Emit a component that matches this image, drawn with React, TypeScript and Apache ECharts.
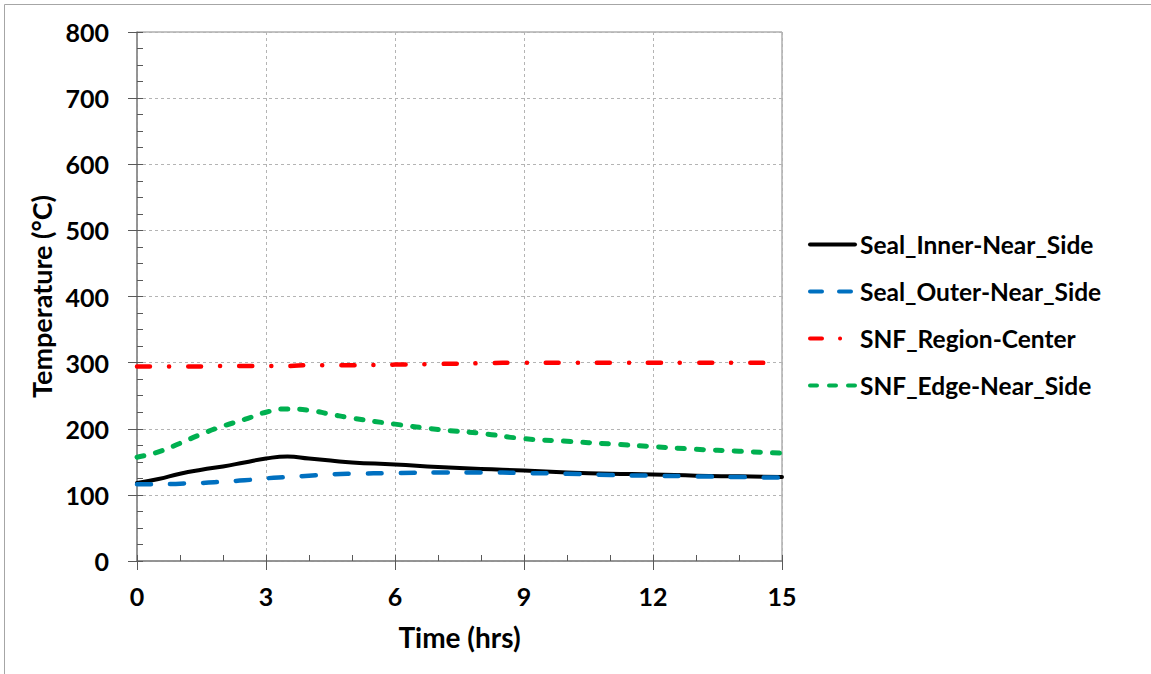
import React, { useEffect, useRef } from "react";
import * as echarts from "echarts";

const timeHrs = [0, 0.5, 1, 1.5, 2, 2.5, 3, 3.5, 4, 4.5, 5, 6, 7, 8, 9, 10, 11, 12, 13, 14, 15];
const sealInner = [118, 124, 132, 138, 143, 149, 155, 158, 155, 152, 149, 146, 142, 139, 137, 134, 132, 131, 129, 128, 127];
const sealOuter = [116, 116, 117, 118, 120, 122, 125, 127, 129, 131, 132, 133, 134, 134, 133, 132, 130, 129, 128, 127, 126];
const snfCenter = [294, 294, 294, 294, 295, 295, 295, 295, 296, 296, 296, 297, 298, 299, 300, 300, 300, 300, 300, 300, 299];
const snfEdge = [157, 165, 178, 192, 204, 214, 225, 230, 228, 222, 216, 207, 199, 193, 185, 181, 177, 173, 169, 166, 163];

const seriesNames = ["Seal_Inner-Near_Side", "Seal_Outer-Near_Side", "SNF_Region-Center", "SNF_Edge-Near_Side"];
const xTicks = [0, 3, 6, 9, 12, 15];
const yTicks = [0, 100, 200, 300, 400, 500, 600, 700, 800];

const FONT = "Lato";

const styles = [
  { color: "#000000", width: 4, type: "solid" as any },
  { color: "#0070C0", width: 4.5, type: [14, 19] },
  { color: "#FF0000", width: 4.5, type: [13, 19, 0.1, 19] },
  { color: "#00B050", width: 5, type: [7, 12] },
];
const legendDash = ["solid" as any, [12, 17], [12, 18, 0.1, 20], [7, 12]];

function pairs(vals: number[]) {
  return timeHrs.map((t, i) => [t, vals[i]]);
}

export default function App() {
  const ref = useRef<HTMLDivElement>(null);
  useEffect(() => {
    if (!ref.current) return;
    const chart = echarts.init(ref.current, undefined, { renderer: "svg" });
    const axisGray = "#868686";
    const gridGray = "#b4b4b4";
    const labelStyle = { color: "#000", fontFamily: FONT, fontWeight: "bold" as const, fontSize: 25 };
    const allVals = [sealInner, sealOuter, snfCenter, snfEdge];
    chart.setOption({
      animation: false,
      backgroundColor: "#fff",
      grid: { left: 137, right: 369, top: 32, bottom: 113, show: true, borderColor: axisGray, borderWidth: 1 },
      graphic: [
        { type: "line", shape: { x1: 4.5, y1: 4.5, x2: 1151, y2: 4.5 }, style: { stroke: "#a6a6a6", lineWidth: 1 } },
        { type: "line", shape: { x1: 4.5, y1: 4.5, x2: 4.5, y2: 674 }, style: { stroke: "#a6a6a6", lineWidth: 1 } },
      ],
      legend: {
        orient: "vertical",
        left: 808,
        top: 232,
        padding: 0,
        itemWidth: 45,
        itemHeight: 14,
        itemGap: 22,
        itemStyle: { opacity: 0 },
        textStyle: { color: "#000", fontFamily: FONT, fontWeight: "bold", fontSize: 24.5, lineHeight: 25 },
        data: seriesNames.map((n, i) => ({
          name: n,
          lineStyle: { color: styles[i].color, width: 4, type: legendDash[i], cap: "round" },
        })),
      },
      xAxis: [
        {
          type: "value",
          min: 0,
          max: 15,
          interval: 3,
          name: "Time (hrs)",
          nameLocation: "middle",
          nameGap: 62,
          nameTextStyle: { color: "#000", fontFamily: FONT, fontWeight: "bold", fontSize: 28 },
          axisLine: { show: true, lineStyle: { color: axisGray, width: 1.5 } },
          axisTick: { show: true, inside: false, length: 9, lineStyle: { color: "#595959" } },
          axisLabel: { ...labelStyle, margin: 22, formatter: (v: number) => (xTicks.includes(v) ? String(v) : "") },
          splitLine: { show: true, lineStyle: { color: gridGray, type: [3, 3], width: 1 } },
        },
        {
          type: "value",
          position: "bottom",
          min: 0,
          max: 15,
          interval: 1,
          axisLine: { show: false },
          axisTick: { show: true, inside: true, length: 6, lineStyle: { color: "#595959" } },
          axisLabel: { show: false },
          splitLine: { show: false },
        },
      ],
      yAxis: [
        {
          type: "value",
          min: 0,
          max: 800,
          interval: 100,
          name: "Temperature (°C)",
          nameLocation: "middle",
          nameGap: 78,
          nameTextStyle: { color: "#000", fontFamily: FONT, fontWeight: "bold", fontSize: 27 },
          axisLine: { show: true, lineStyle: { color: axisGray, width: 1.5 } },
          axisTick: { show: true, inside: false, length: 9, lineStyle: { color: "#595959" } },
          axisLabel: { ...labelStyle, margin: 28, formatter: (v: number) => (yTicks.includes(v) ? String(v) : "") },
          splitLine: { show: true, lineStyle: { color: gridGray, type: [3, 3], width: 1 } },
        },
        {
          type: "value",
          position: "left",
          min: 0,
          max: 800,
          interval: 25,
          axisLine: { show: false },
          axisTick: { show: true, inside: true, length: 6, lineStyle: { color: "#595959" } },
          axisLabel: { show: false },
          splitLine: { show: false },
        },
      ],
      series: seriesNames.map((n, i) => ({
        name: n,
        type: "line",
        data: pairs(allVals[i]),
        smooth: 0.5,
        symbol: "none",
        itemStyle: { color: styles[i].color },
        lineStyle: { color: styles[i].color, width: styles[i].width, type: styles[i].type, cap: "round", join: "round" },
        z: i === 1 ? 5 : i === 0 ? 4 : 3,
      })),
    });
    return () => chart.dispose();
  }, []);
  return (
    <div style={{ position: "absolute", left: 0, top: 0, width: 1151, height: 674, background: "#fff" }}>
      <div ref={ref} style={{ width: 1151, height: 674 }} />
    </div>
  );
}
